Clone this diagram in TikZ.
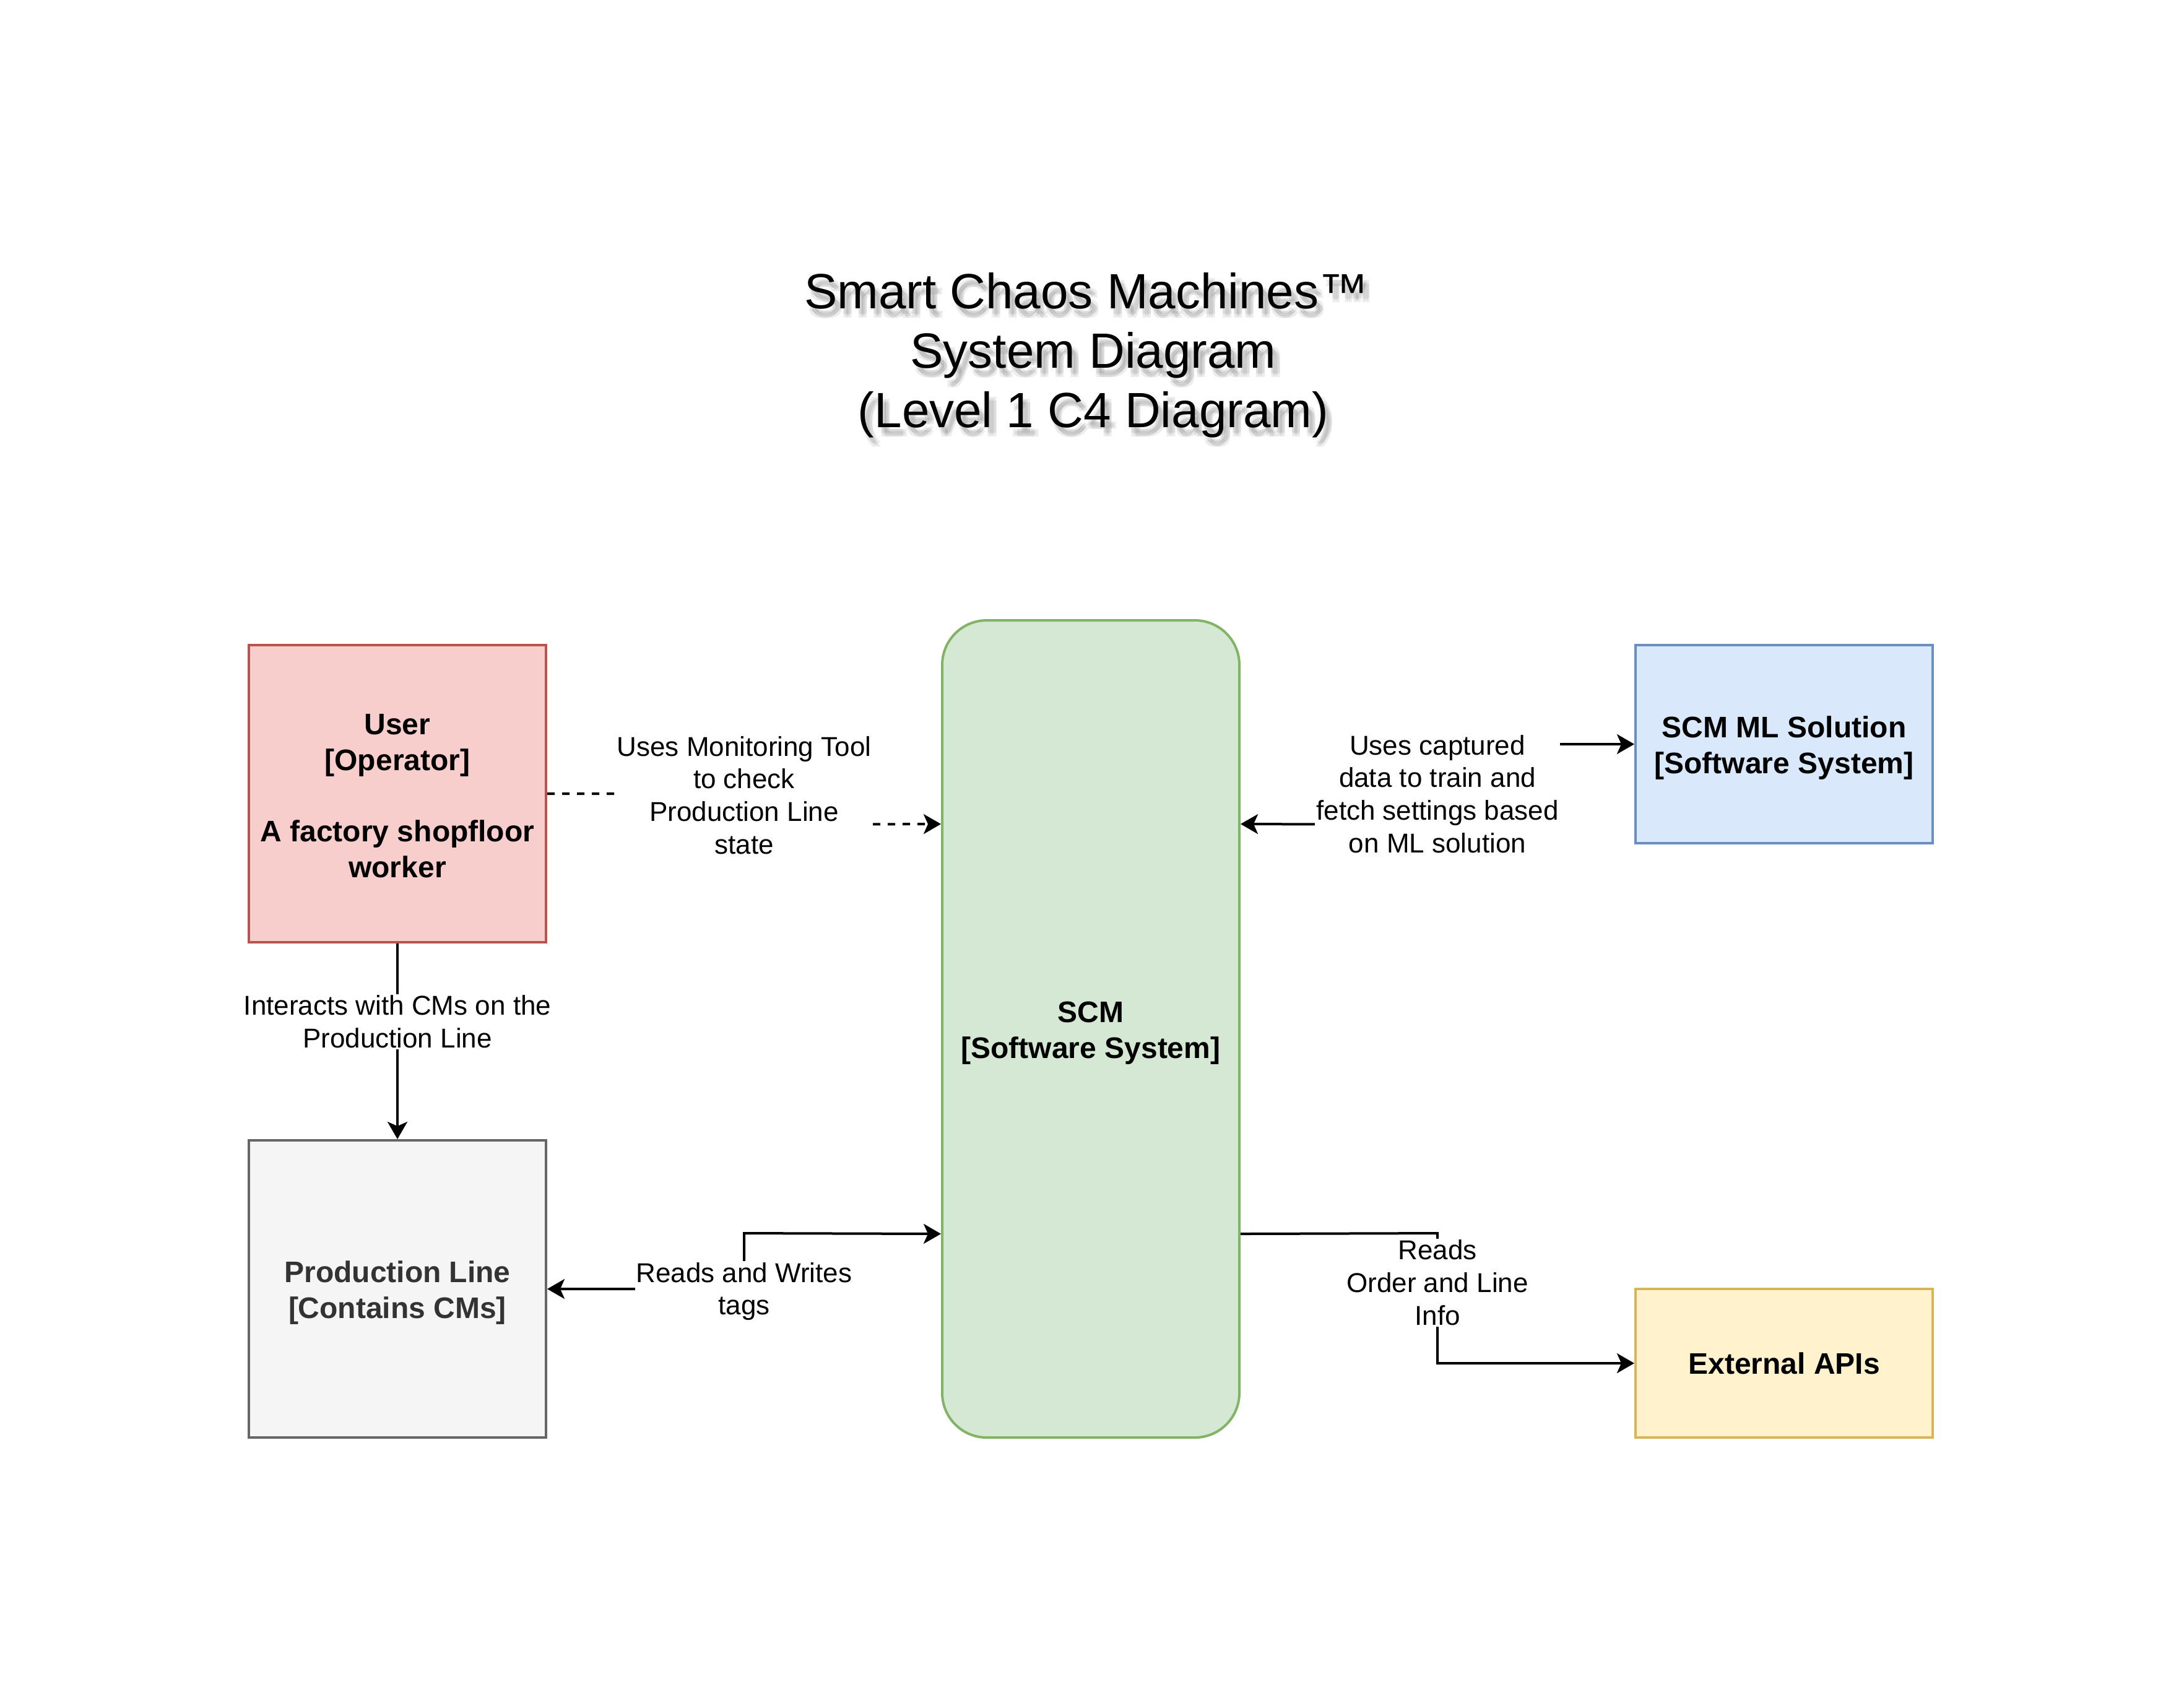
\documentclass[tikz,border=0pt]{standalone}
\usepackage{fontspec}
\setmainfont{Liberation Sans}
\usetikzlibrary{arrows.meta,calc}
\definecolor{scmred}{HTML}{F8CECC}
\definecolor{scmredline}{HTML}{B85450}
\definecolor{scmgreen}{HTML}{D5E8D4}
\definecolor{scmgreenline}{HTML}{82B366}
\definecolor{scmblue}{HTML}{DAE8FC}
\definecolor{scmblueline}{HTML}{6C8EBF}
\definecolor{scmgrey}{HTML}{F5F5F5}
\definecolor{scmgreyline}{HTML}{666666}
\definecolor{scmgreytext}{HTML}{333333}
\definecolor{scmyellow}{HTML}{FFF2CC}
\definecolor{scmyellowline}{HTML}{D6B656}
\newcommand{\boxstrut}[1][11.8pt]{\rule{0pt}{#1}}

\begin{document}
\begin{tikzpicture}[x=1pt, y=-1pt,
  >={Stealth[length=7pt, width=8pt, inset=1.75pt]},
  box/.style={line width=1pt, minimum width=120pt, inner sep=0pt, align=center, font=\fontsize{12}{14.4}\selectfont\bfseries},
  lbl/.style={fill=white, inner sep=0.5pt, align=center, font=\fontsize{11}{13.2}\selectfont},
  flow/.style={line width=1pt, ->},
  titletext/.style={inner sep=0pt, align=center, font=\fontsize{20}{24}\selectfont}]
  \useasboundingbox (-0.5,-0.5) rectangle (881.5,680.5);

  % title with its soft shadow
  \foreach \dx/\dy [count=\k] in {1.2/2.2, 2.8/2.2, 2/3, 1.2/3.8, 2.8/3.8}
    \node[titletext, text=black, text opacity=0.07] (tshadow\k) at (441+\dx,143+\dy) {Smart Chaos Machines™\hspace*{5.6pt}\\System Diagram\\(Level 1 C4 Diagram)};
  \node[titletext] (title) at (441,143) {Smart Chaos Machines™\hspace*{5.6pt}\\System Diagram\\(Level 1 C4 Diagram)};

  % systems and people
  \node[box, draw=scmredline, fill=scmred, minimum height=120pt] (user) at (160,320) {\boxstrut[10pt]User\\{}[Operator]\\[14.4pt]A factory shopfloor\\worker};
  \node[box, draw=scmgreenline, fill=scmgreen, minimum height=330pt, rounded corners=18pt] (scm) at (440,415) {\boxstrut SCM\\{}[Software System]};
  \node[box, draw=scmblueline, fill=scmblue, minimum height=80pt] (ml) at (720,300) {\boxstrut SCM ML Solution\\{}[Software System]};
  \node[box, draw=scmgreyline, fill=scmgrey, text=scmgreytext, minimum height=120pt] (pl) at (160,520) {\boxstrut Production Line\\{}[Contains CMs]};
  \node[box, draw=scmyellowline, fill=scmyellow, minimum height=60pt] (ext) at (720,550) {External APIs};

  % connectors
  \draw[flow, dash pattern=on 3pt off 3pt] (user.east) -- (300,320) -- node[lbl, pos=0.05] (monlbl) {Uses Monitoring Tool\\to check\\Production Line\\state} (300,332.5) -- ($(scm.north west)!.25!(scm.south west)$);
  \draw[flow, <->] ($(scm.north east)!.25!(scm.south east)$) -- (580,332.5) -- node[lbl, pos=0.38] (mllbl) {Uses captured\\data to train and\\fetch settings based\\on ML solution} (580,300) -- (ml.west);
  \draw[flow] (user.south) -- node[lbl, pos=0.4] (intlbl) {Interacts with CMs on the\\Production Line} (pl.north);
  \draw[flow, <->] ($(scm.north west)!.75!(scm.south west)$) -- (300,497.5) -- (300,520) node[lbl, yshift=-1pt] (rwlbl) {Reads and Writes\\tags} -- (pl.east);
  \draw[flow] ($(scm.north east)!.75!(scm.south east)$) -- (580,497.5) -- node[lbl, pos=0.38] (extlbl) {Reads\\Order and Line\\Info} (580,550) -- (ext.west);
\end{tikzpicture}
\end{document}
